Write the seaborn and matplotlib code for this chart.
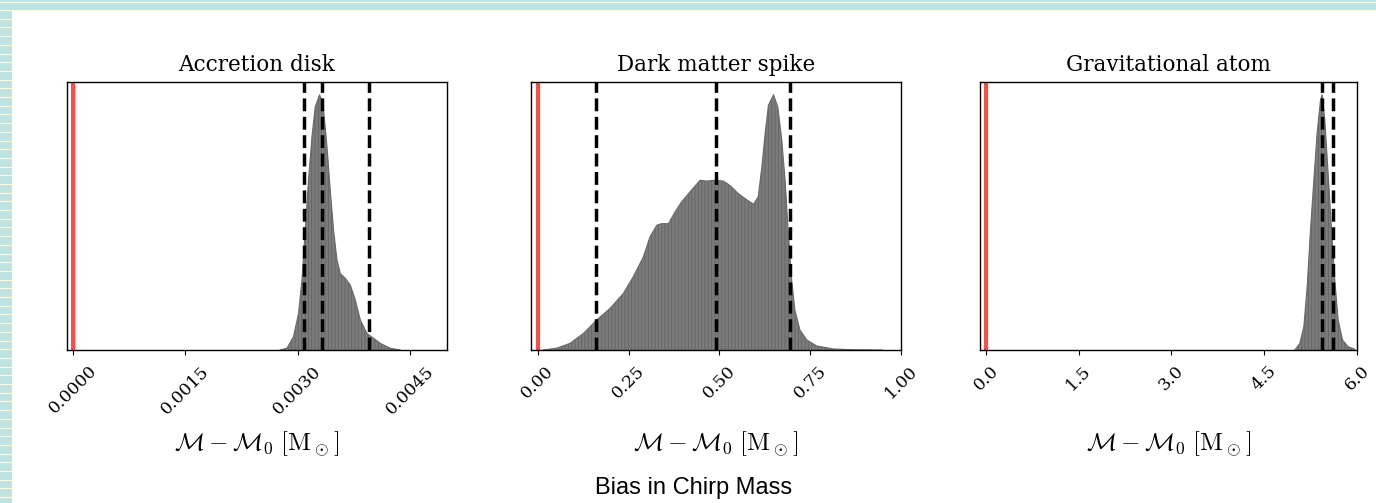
import numpy as np
import pandas as pd
import matplotlib
matplotlib.use("Agg")
import matplotlib.pyplot as plt
from matplotlib.patches import Rectangle
from matplotlib.lines import Line2D
import seaborn as sns

# ---------------- data ----------------
titles = ["Accretion disk", "Dark matter spike", "Gravitational atom"]

# Panel 1: accretion disk
disk_x = [0.002765, 0.002858, 0.002946, 0.003013, 0.003059, 0.003103, 0.003147,
          0.003193, 0.003237, 0.003295, 0.003340, 0.003394, 0.003438, 0.003482,
          0.003528, 0.003572, 0.003639, 0.003706, 0.003773, 0.003840, 0.003929,
          0.004018, 0.004107, 0.004241, 0.004375]
disk_d = [0.0, 0.007, 0.052, 0.143, 0.274, 0.470, 0.666, 0.836, 0.953, 1.0,
          0.967, 0.797, 0.627, 0.470, 0.353, 0.300, 0.281, 0.255, 0.196, 0.118,
          0.065, 0.046, 0.026, 0.007, 0.0]
disk_lines = [0.00309, 0.003322, 0.00395]

# Panel 2: dark matter spike
spike_x = [0.015, 0.052, 0.089, 0.126, 0.162, 0.199, 0.236, 0.263, 0.291, 0.309,
           0.328, 0.341, 0.360, 0.378, 0.396, 0.419, 0.447, 0.465, 0.488, 0.511,
           0.529, 0.552, 0.575, 0.594, 0.607, 0.617, 0.626, 0.635, 0.649, 0.661,
           0.672, 0.681, 0.690, 0.699, 0.708, 0.722, 0.741, 0.768, 0.814, 0.869,
           0.95]
spike_d = [0.0, 0.007, 0.026, 0.065, 0.117, 0.163, 0.222, 0.287, 0.365, 0.443,
           0.489, 0.495, 0.495, 0.541, 0.580, 0.619, 0.665, 0.662, 0.665, 0.662,
           0.645, 0.613, 0.589, 0.571, 0.600, 0.717, 0.848, 0.958, 1.0, 0.952,
           0.821, 0.665, 0.456, 0.274, 0.156, 0.078, 0.039, 0.016, 0.004, 0.001,
           0.0]
spike_lines = [0.160, 0.491, 0.695]

# Panel 3: gravitational atom
atom_x = [4.995, 5.075, 5.140, 5.194, 5.248, 5.302, 5.355, 5.410, 5.436, 5.480,
          5.533, 5.588, 5.641, 5.695, 5.766, 5.856, 5.964]
atom_d = [0.0, 0.026, 0.091, 0.248, 0.470, 0.666, 0.849, 0.98, 1.0, 0.90,
          0.693, 0.47, 0.274, 0.118, 0.039, 0.013, 0.003]
atom_lines = [5.426, 5.614]

xticks = [[0.0, 0.0015, 0.0030, 0.0045],
          [0.00, 0.25, 0.50, 0.75, 1.00],
          [0.0, 1.5, 3.0, 4.5, 6.0]]
xticklabels = [["0.0000", "0.0015", "0.0030", "0.0045"],
               ["0.00", "0.25", "0.50", "0.75", "1.00"],
               ["0.0", "1.5", "3.0", "4.5", "6.0"]]
xlims = [(-0.000085, 0.005), (-0.0184, 1.0), (-0.097, 6.0)]
truth = [0.0, 0.0, 0.0]

# ---------------- style ----------------
plt.rcParams["font.family"] = ["DejaVu Serif"]
plt.rcParams["mathtext.fontset"] = "cm"
plt.rcParams["hatch.linewidth"] = 0.6

W, H = 1376, 503
fig = plt.figure(figsize=(W / 100, H / 100), dpi=100)

# axes positions in pixels (left, right), top/bottom shared
boxes = [(67, 447), (531, 901), (980, 1357)]
top_px, bot_px = 82, 350

datasets = [(disk_x, disk_d, disk_lines),
            (spike_x, spike_d, spike_lines),
            (atom_x, atom_d, atom_lines)]

for i, ((l, r), (xs, ds, lines)) in enumerate(zip(boxes, datasets)):
    ax = fig.add_axes([l / W, (H - bot_px) / H, (r - l) / W, (bot_px - top_px) / H])
    df = pd.DataFrame({"x": xs, "density": ds})
    ax.fill_between(df["x"], 0, df["density"], facecolor="#7c7c7c",
                    edgecolor="#626262", hatch="|||||", linewidth=0)
    sns.lineplot(data=df, x="x", y="density", ax=ax, color="#6a6a6a", lw=0.8)
    ax.axvline(truth[i], color="#ff4d4d", lw=3)
    for v in lines:
        ax.axvline(v, color="black", lw=2.5, ls="--")
    ax.set_xlim(*xlims[i])
    ax.set_ylim(0, max(ds) * 1.05)
    ax.set_yticks([])
    ax.set_ylabel("")
    ax.set_xticks(xticks[i])
    ax.set_xticklabels(xticklabels[i], rotation=45, ha="center", fontsize=12.5)
    ax.tick_params(axis="x", pad=5.5)
    ax.set_xlabel(r"$\mathcal{M} - \mathcal{M}_0\ [\mathrm{M}_\odot]$",
                  fontsize=18, va="center")
    ax.xaxis.set_label_coords(0.5, -(444 - bot_px) / (bot_px - top_px))
    ax.set_title(titles[i], fontsize=15.5, pad=8)
    for s in ax.spines.values():
        s.set_linewidth(1.0)

fig.text(694 / W, 1 - 488 / H, "Bias in Chirp Mass", ha="center", va="center",
         fontsize=17, family=["Liberation Sans", "DejaVu Sans"])

# decorative page border (top and left bands)
fig.patches.append(Rectangle((0, 1 - 10 / H), 1, 10 / H, transform=fig.transFigure,
                             facecolor="#bfe2e3", edgecolor="none", zorder=-1))
fig.patches.append(Rectangle((0, 0), 12 / W, 1, transform=fig.transFigure,
                             facecolor="#bfe2e3", edgecolor="none", zorder=-1))
fig.add_artist(Line2D([0, 1], [1 - 1.5 / H, 1 - 1.5 / H], transform=fig.transFigure,
                      color="#fbfbd8", lw=0.8))
fig.add_artist(Line2D([0, 1], [1 - 10 / H, 1 - 10 / H], transform=fig.transFigure,
                      color="#fbfbd8", lw=0.8))
yy = 10
while yy < H:
    fig.add_artist(Line2D([0, 12 / W], [1 - yy / H, 1 - yy / H],
                          transform=fig.transFigure, color="#fbfbd8", lw=0.8))
    yy += 8.7

fig.savefig("out.png", dpi=100)
